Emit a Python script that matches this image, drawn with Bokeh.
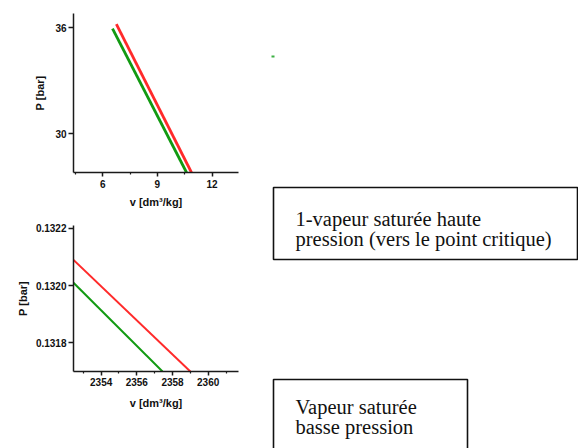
from bokeh.plotting import figure
from bokeh.models import Range1d, FixedTicker, NumeralTickFormatter
from bokeh.layouts import row, column
from bokeh.embed import file_html
from bokeh.resources import INLINE
from bokeh.core.properties import value

# ---- data: high-pressure saturated vapour (top panel) ----
hp_v_red = [6.75, 10.87]
hp_p_red = [36.2, 27.8]
hp_v_green = [6.54, 10.6]
hp_p_green = [35.94, 27.8]
hp_xticks = [6, 9, 12]
hp_yticks = [30, 36]

# ---- data: low-pressure saturated vapour (bottom panel) ----
lp_v_red = [2352.45, 2359.0]
lp_p_red = [0.13209, 0.13170]
lp_v_green = [2352.45, 2357.44]
lp_p_green = [0.13201, 0.13170]
lp_xticks = [2354, 2356, 2358, 2360]
lp_yticks = [0.1318, 0.1320, 0.1322]

# ---- annotation texts ----
box1_lines = ["1-vapeur  saturée haute", "pression (vers le point critique)"]
box2_lines = ["Vapeur saturée", "basse pression"]

RED = "#ff2a2a"
GREEN = "#129a12"
AX = "#1a1a1a"


def style_axes(p, xticks, yticks, xminor):
    p.xgrid.visible = False
    p.ygrid.visible = False
    p.outline_line_color = None
    p.background_fill_color = "white"
    p.border_fill_color = "white"
    for ax in (p.xaxis[0], p.yaxis[0]):
        ax.axis_line_color = AX
        ax.axis_line_width = 1.5
        ax.major_tick_line_color = AX
        ax.major_tick_line_width = 1.5
        ax.minor_tick_line_color = AX
        ax.minor_tick_line_width = 1.2
        ax.major_tick_in = 0
        ax.minor_tick_in = 0
        ax.minor_tick_out = 2
        ax.major_label_text_font = "Liberation Sans"
        ax.major_label_text_font_style = "bold"
        ax.major_label_text_font_size = "10px"
        ax.major_label_text_color = "#111111"
        ax.axis_label_text_font = "Liberation Sans"
        ax.axis_label_text_font_style = "bold"
        ax.axis_label_text_font_size = "11px"
        ax.axis_label_text_color = "#111111"
    p.xaxis[0].ticker = FixedTicker(ticks=xticks, minor_ticks=xminor)
    p.yaxis[0].ticker = FixedTicker(ticks=yticks, minor_ticks=[])
    p.xaxis[0].major_tick_out = 4
    p.yaxis[0].major_tick_out = 5


# ---- top panel ----
top = figure(width=258, height=214, output_backend="svg", toolbar_location=None,
             x_range=Range1d(4.4, 13.45), y_range=Range1d(27.8, 36.8),
             min_border_left=73, min_border_right=17, min_border_top=13,
             min_border_bottom=42)
style_axes(top, hp_xticks, hp_yticks, [4.5, 7.5, 10.5, 13.5])
top.xaxis[0].axis_label = "v [dm³/kg]"
top.yaxis[0].axis_label = "P [bar]"
top.xaxis[0].major_label_standoff = 3
top.xaxis[0].axis_label_standoff = 5
top.yaxis[0].major_label_standoff = 2
top.yaxis[0].axis_label_standoff = 6
top.line(hp_v_red, hp_p_red, line_color=RED, line_width=2.8)
top.line(hp_v_green, hp_p_green, line_color=GREEN, line_width=2.8)

# ---- bottom panel ----
bot = figure(width=258, height=234, output_backend="svg", toolbar_location=None,
             x_range=Range1d(2352.45, 2361.7), y_range=Range1d(0.13170, 0.13221),
             min_border_left=72, min_border_right=20, min_border_top=11,
             min_border_bottom=77)
style_axes(bot, lp_xticks, lp_yticks, [2353, 2355, 2357, 2359, 2361])
bot.yaxis[0].formatter = NumeralTickFormatter(format="0.0000")
bot.xaxis[0].axis_label = "v [dm³/kg]"
bot.yaxis[0].axis_label = "P [bar]"
bot.xaxis[0].major_label_standoff = 2
bot.xaxis[0].axis_label_standoff = 8
bot.yaxis[0].major_label_standoff = 2
bot.yaxis[0].axis_label_standoff = 4
bot.line(lp_v_red, lp_p_red, line_color=RED, line_width=2)
bot.line(lp_v_green, lp_p_green, line_color=GREEN, line_width=2)

# ---- right side: text boxes ----
side = figure(width=320, height=448, output_backend="svg", toolbar_location=None,
              x_range=Range1d(0, 320), y_range=Range1d(448, 0),
              x_axis_location=None, y_axis_location=None,
              min_border=0)
side.xgrid.visible = False
side.ygrid.visible = False
side.outline_line_color = None
side.border_fill_color = "white"
side.background_fill_color = "white"

side.quad(left=[15], right=[319], top=[187], bottom=[259],
          fill_color=None, line_color="#111111", line_width=1.6)
side.quad(left=[15], right=[209], top=[379], bottom=[470],
          fill_color=None, line_color="#111111", line_width=1.6)
side.quad(left=[13], right=[16], top=[55], bottom=[57],
          fill_color="#3cb043", line_color=None)

side.text(x=[37, 37], y=[218.3, 238.3], text=box1_lines,
          text_font=value("Liberation Serif"), text_font_size="20.5px",
          text_color="#111111", text_baseline="alphabetic", text_align="left")
side.text(x=[37, 37], y=[406.7, 426.7], text=box2_lines,
          text_font=value("Liberation Serif"), text_font_size="20.5px",
          text_color="#111111", text_baseline="alphabetic", text_align="left")

layout = row(column(top, bot), side)
open("out.html", "w").write(file_html(layout, INLINE))
